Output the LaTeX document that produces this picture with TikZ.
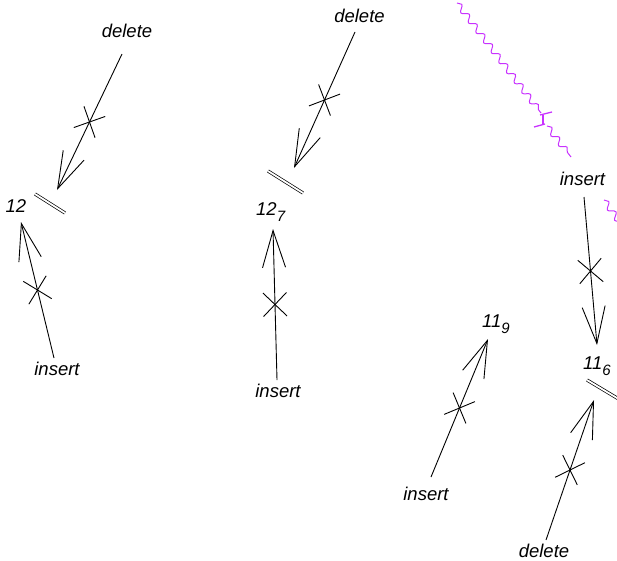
\documentclass[tikz,border=0pt]{standalone}
\usepackage{fontspec}
\setmainfont{Liberation Sans}
\usetikzlibrary{arrows.meta,shapes.misc,decorations.pathmorphing}
\definecolor{wavecol}{RGB}{200,50,255}
\tikzset{
 lbl/.style={inner sep=0pt, font=\fontsize{18.5}{20}\selectfont\itshape},
 conn/.style={line width=0.9pt, -{Straight Barb[length=37pt,width=23pt]}},
 crossmk/.style={sloped, draw, cross out, minimum size=22.6pt, inner sep=0pt, line width=0.9pt},
 dbl/.style={double, double distance=1.8pt, line width=0.7pt},
 wavy/.style={wavecol, line width=1pt, decorate, decoration={snake, segment length=12.6pt, amplitude=3pt}},
 brk/.style={wavecol, line width=1.3pt}
}
\newcommand{\subn}[2]{#1\raisebox{-6pt}{\fontsize{15}{15}\selectfont #2}}
\begin{document}
\begin{tikzpicture}[x=1pt,y=-1pt]
\clip (0,0) rectangle (617,560);
% labels
\node[lbl, anchor=base] (del1) at (127,37) {delete};
\node[lbl, anchor=base] (n12) at (16,212) {12};
\node[lbl, anchor=base] (ins1) at (57,375) {insert};
\node[lbl, anchor=base] (del2) at (359.5,22) {delete};
\node[lbl, anchor=base west] (n127) at (256,215) {\subn{12}{7}};
\node[lbl, anchor=base] (ins2) at (278,397) {insert};
\node[lbl, anchor=base] (ins3) at (582.5,185) {insert};
\node[lbl, anchor=base west] (n119) at (482,327) {\subn{11}{9}};
\node[lbl, anchor=base west] (n116) at (583,369) {\subn{11}{6}};
\node[lbl, anchor=base] (ins4) at (426,500) {insert};
\node[lbl, anchor=base] (del3) at (544,557) {delete};
% connector end points
\coordinate (a1s) at (122,54);  \coordinate (a1e) at (57,190);
\coordinate (a2s) at (54,358);  \coordinate (a2e) at (21,222);
\coordinate (a3s) at (355,32);  \coordinate (a3e) at (294,168);
\coordinate (a4s) at (277,380); \coordinate (a4e) at (273,229);
\coordinate (a5s) at (584,197); \coordinate (a5e) at (597,345);
\coordinate (a6s) at (431,477); \coordinate (a6e) at (488,339);
\coordinate (a7s) at (546,540); \coordinate (a7e) at (594,400);
% connectors
\draw[conn] (a1s) -- node[crossmk]{} (a1e);
\draw[conn] (a2s) -- node[crossmk]{} (a2e);
\draw[conn] (a3s) -- node[crossmk]{} (a3e);
\draw[conn] (a4s) -- node[crossmk]{} (a4e);
\draw[conn] (a5s) -- node[crossmk]{} (a5e);
\draw[conn] (a6s) -- node[crossmk]{} (a6e);
\draw[conn] (a7s) -- node[crossmk]{} (a7e);
% double bars
\coordinate (d1a) at (35,194);  \coordinate (d1b) at (65,213);
\coordinate (d2a) at (268,171); \coordinate (d2b) at (303,193);
\coordinate (d3a) at (587,380); \coordinate (d3b) at (622,401);
\draw[dbl] (d1a) -- (d1b);
\draw[dbl] (d2a) -- (d2b);
\draw[dbl] (d3a) -- (d3b);
% wavy lines
\coordinate (w1a) at (457,3);   \coordinate (w1b) at (541,113);
\coordinate (z1) at (540,115);  \coordinate (z2) at (552,112);
\coordinate (z3) at (543,115);  \coordinate (z4) at (543,124);
\coordinate (z5) at (534,127);  \coordinate (z6) at (545,124);
\coordinate (w2a) at (547,126); \coordinate (w2b) at (571,157);
\coordinate (w3a) at (604,200); \coordinate (w3b) at (628,234);
\draw[wavy] (w1a) -- (w1b);
\draw[brk] (z1) -- (z2);
\draw[brk] (z3) -- (z4);
\draw[brk] (z5) -- (z6);
\draw[wavy] (w2a) -- (w2b);
\draw[wavy] (w3a) -- (w3b);
\end{tikzpicture}
\end{document}
